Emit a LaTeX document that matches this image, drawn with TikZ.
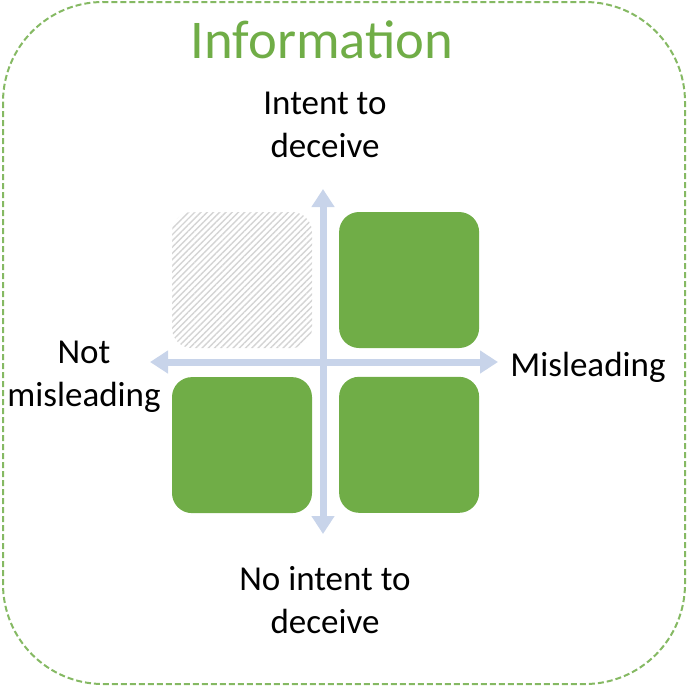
\documentclass[tikz,border=0pt]{standalone}
\usepackage{fontspec}
\setmainfont{Carlito}
\usetikzlibrary{arrows.meta,positioning,patterns.meta}
\definecolor{infogreen}{HTML}{70AD47}
\definecolor{axisblue}{HTML}{C8D4EA}
\definecolor{hatchgray}{HTML}{D4D4D4}
\tikzset{
  basic/.style      = {rectangle, rounded corners=10pt, minimum width=70pt,
                       minimum height=68pt, inner sep=0pt},
  quad/.style       = {basic, fill=infogreen},
  blank quad/.style = {basic, pattern color=hatchgray,
                       pattern={Lines[angle=45,distance=2.2pt,line width=0.7pt]}},
  axis text/.style  = {font=\fontsize{17.5}{21.5}\selectfont, inner sep=0pt,
                       align=center},
  axis/.style       = {line width=3.5pt, draw=axisblue,
                       {Triangle[length=9pt,width=11pt]}-{Triangle[length=9pt,width=11pt]}}
}

\begin{document}
\begin{tikzpicture}[x=0.5pt, y=-0.5pt]
\useasboundingbox (0,0) rectangle (688,687);

% outer frame and title
\draw[infogreen!85, dashed, dash pattern=on 3pt off 1.5pt, line width=1pt,
      rounded corners=50pt] (3,2) rectangle (685,684);
\node[font=\fontsize{27.3}{32}\selectfont, text=infogreen, inner sep=0pt]
  (title) at (322,40) {Information};

% the four quadrants
\node[blank quad] (q1) at (242,280) {};
\node[quad, right=13pt of q1] (q2) {};
\node[quad, below=14pt of q1] (q3) {};
\node[quad, below=14pt of q2] (q4) {};

% axes
\coordinate (west)  at (150,362);
\coordinate (east)  at (498,362);
\coordinate (north) at (323,189);
\coordinate (south) at (323,534);
\draw[axis] (south) -- (north);
\draw[axis] (west) -- (east);

% axis texts
\node[axis text] (up)    at (325,125) {Intent to\\deceive};
\node[axis text] (down)  at (325,600) {No intent to\\deceive};
\node[axis text] (left)  at (84,377)  {Not\\misleading};
\node[axis text, anchor=west] (right) at (510,367) {Misleading};
\end{tikzpicture}
\end{document}
